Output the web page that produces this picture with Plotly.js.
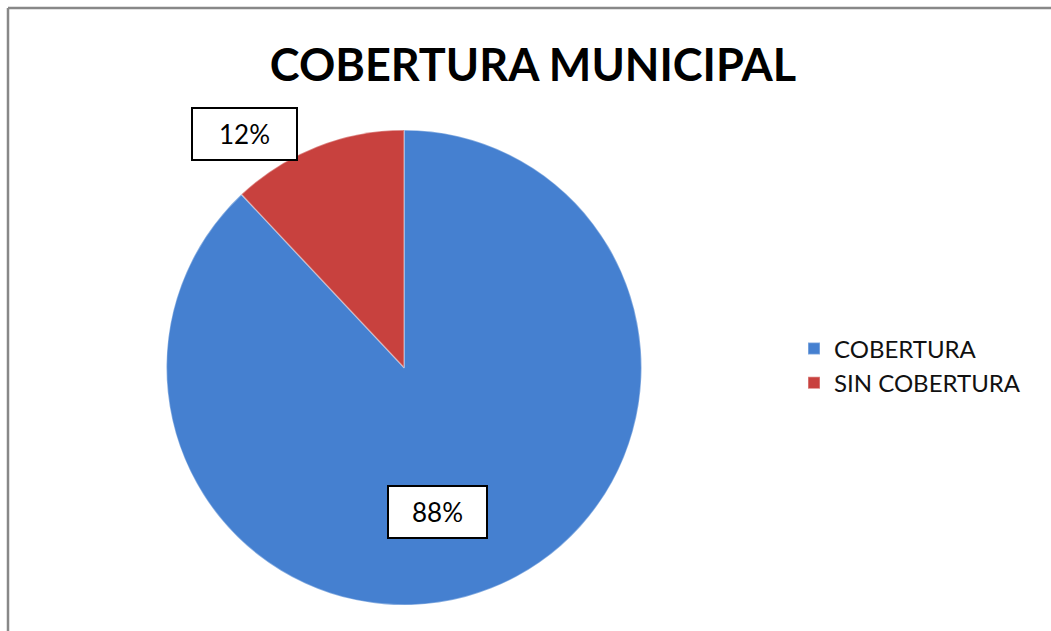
<!DOCTYPE html>
<html>
<head>
<meta charset="utf-8">
<script src="https://cdn.plot.ly/plotly-3.0.1.min.js"></script>
<style>
html,body{margin:0;padding:0;background:#fff;}
#chart{width:1051px;height:631px;}
</style>
</head>
<body>
<div id="chart"></div>
<script>
const categories = ["COBERTURA", "SIN COBERTURA"];
const values = [88, 12];
const sliceColors = ["#4580d0", "#c8413e"];

const total = values.reduce((a, b) => a + b, 0);
const pct = values.map(v => Math.round(v / total * 100) + "%");

const trace = {
  type: "pie",
  labels: categories,
  values: values,
  sort: false,
  direction: "clockwise",
  rotation: 0,
  textinfo: "none",
  hoverinfo: "label+percent",
  marker: {colors: sliceColors, line: {color: "rgba(255,255,255,0.35)", width: 1.5}},
  domain: {x: [166/1051, 642/1051], y: [1 - 605/631, 1 - 130/631]}
};

const labelPos = [
  {x: 437.5/1051, y: 1 - 512/631},
  {x: 244.5/1051, y: 1 - 134.5/631}
];

const annotations = pct.map((t, i) => ({
  xref: "paper", yref: "paper",
  x: labelPos[i].x, y: labelPos[i].y,
  xanchor: "center", yanchor: "middle",
  text: t, showarrow: false,
  font: {family: "Lato, 'Open Sans', sans-serif", size: 26, color: "#000"},
  bgcolor: "#fff", bordercolor: "#000", borderwidth: 2,
  width: i === 0 ? 95 : 101, height: 48
}));

const layout = {
  width: 1051, height: 631,
  margin: {l: 0, r: 0, t: 0, b: 0},
  paper_bgcolor: "#fff",
  title: {
    text: "<b>COBERTURA MUNICIPAL</b>",
    x: 533/1051, y: 1 - 65/631, xanchor: "center", yanchor: "middle",
    font: {family: "Lato, 'Open Sans', sans-serif", size: 45, color: "#000"}
  },
  showlegend: true,
  legend: {
    x: 794/1051, y: 1 - 366/631, xanchor: "left", yanchor: "middle",
    font: {family: "Lato, 'Open Sans', sans-serif", size: 24, color: "#111"},
    itemwidth: 30
  },
  annotations: annotations,
  shapes: [
    {type: "line", xref: "paper", yref: "paper", x0: 8/1051, x1: 1.02, y0: 1 - 8/631, y1: 1 - 8/631, line: {color: "#888", width: 2.5}},
    {type: "line", xref: "paper", yref: "paper", x0: 8/1051, x1: 8/1051, y0: 1 - 8/631, y1: -0.02, line: {color: "#888", width: 2.5}}
  ]
};

Plotly.newPlot("chart", [trace], layout, {displayModeBar: false});
</script>
</body>
</html>
